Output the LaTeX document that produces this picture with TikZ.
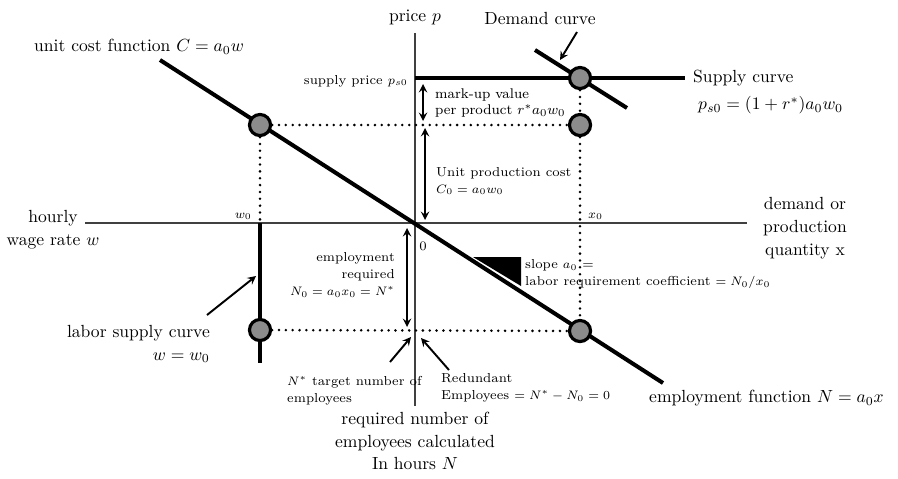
\documentclass[tikz,border=0pt]{standalone}
\begin{document}
\begin{tikzpicture}[x=0.02cm, y=-0.02cm, >=stealth,
    axis/.style={line width=0.8pt, black!75},
    curve/.style={line width=2.3pt},
    dots/.style={line width=1.6pt, line cap=round, dash pattern=on 0pt off 3.9pt},
    pnt/.style={circle, draw, line width=1.8pt, fill=black!45, minimum size=12pt, inner sep=0pt},
    arr/.style={->, line width=1.1pt},
    dbl/.style={<->, line width=1.1pt},
    big/.style={font=\fontsize{10}{13}\selectfont},
    small/.style={font=\fontsize{7.4}{9.6}\selectfont}]
    \useasboundingbox (0,0) rectangle (898,478);
    % axes
    \coordinate (O) at (415,223);
    \coordinate (xl) at (85,223);
    \coordinate (xr) at (747,223);
    \coordinate (pt) at (415,33);
    \coordinate (pb) at (415,406);
    \draw[axis] (xl) -- (xr);
    \draw[axis] (pt) -- (pb);
    % curves
    \coordinate (cst) at (160,60);
    \coordinate (cen) at (663,383);
    \coordinate (ps) at (415,78);
    \coordinate (se) at (685,78);
    \coordinate (ds) at (535,50);
    \coordinate (de) at (627,108);
    \coordinate (w0) at (260,223);
    \coordinate (lse) at (260,363);
    \draw[curve] (cst) -- (cen);
    \draw[curve] (ps) -- (se);
    \draw[curve] (ds) -- (de);
    \draw[curve] (w0) -- (lse);
    \fill (473,257) -- (521,257) -- (521,286) -- cycle;
    % points
    \node[pnt] (cL) at (260,125) {};
    \node[pnt] (cR) at (580,125) {};
    \node[pnt] (cS) at (580,78) {};
    \node[pnt] (cBL) at (260,330) {};
    \node[pnt] (cBR) at (580,331) {};
    \draw[dots] (cL) -- (cR);
    \draw[dots] (cL) -- (w0);
    \draw[dots] (cS) -- (cR);
    \draw[dots] (cR) -- (cBR);
    \draw[dots] (cBL) -- (cBR);
    % axis labels
    \node[big] (plab) at (415,17) {price $p$};
    \node[big, align=center] (wlab) at (53,230) {hourly\\wage rate $w$};
    \node[big, align=center] (xlab) at (805,228) {demand or\\production\\quantity x};
    \node[big, align=center] (nlab) at (415,441) {required number of\\employees calculated\\In hours $N$};
    \node[small, anchor=south east] (w0lab) at (258,226) {$w_0$};
    \node[small, anchor=south west] (x0lab) at (582,226) {$x_0$};
    \node[small] (olab) at (423,246) {0};
    % curve labels
    \node[big, anchor=west] (clab) at (28,47) {unit cost function $C=a_0w$};
    \node[big, anchor=west] (elab) at (643,398) {employment function $N=a_0x$};
    \node[big] (dlab) at (540,18) {Demand curve};
    \node[big, anchor=west] (slab) at (687,78) {Supply curve};
    \node[big, anchor=west] (sfor) at (692,105) {$p_{s0}=(1+r^*)a_0w_0$};
    \node[big, align=right, anchor=east] (llab) at (216,344) {labor supply curve\\$w=w_0$};
    \coordinate (da) at (577,32);
    \coordinate (db) at (560,60);
    \coordinate (la) at (207,315);
    \coordinate (lb) at (256,276);
    \draw[arr] (da) -- (db);
    \draw[arr] (la) -- (lb);
    % price side
    \node[small, anchor=east] (splab) at (414,81) {supply price $p_{s0}$};
    \node[small, font=\fontsize{8}{9.6}\selectfont, align=left, anchor=west] (mlab) at (429,103) {mark-up value\\per product $r^*a_0w_0$};
    \node[small, align=left, anchor=west] (ulab) at (430,181) {Unit production cost\\$C_0=a_0w_0$};
    \coordinate (m1) at (423,84);
    \coordinate (m2) at (423,121);
    \coordinate (u1) at (425,128);
    \coordinate (u2) at (425,220);
    \draw[dbl] (m1) -- (m2);
    \draw[dbl] (u1) -- (u2);
    % employment side
    \node[small, align=right, anchor=east] (rlab) at (401,275) {employment\\required\\$N_0=a_0x_0=N^*$};
    \node[small, align=left, anchor=west] (slope) at (519,274) {slope $a_0$ =\\labor requirement coefficient $=N_0/x_0$};
    \node[small, align=left, anchor=west] (tlab) at (281,391) {$N^*$ target number of\\employees};
    \node[small, align=left, anchor=west] (rdlab) at (435,388) {Redundant\\Employees $=N^*-N_0=0$};
    \coordinate (e1) at (407,228);
    \coordinate (e2) at (407,327);
    \draw[dbl] (e1) -- (e2);
    \coordinate (ta) at (390,362);
    \coordinate (tb) at (411,337);
    \coordinate (ra) at (449,370);
    \coordinate (rb) at (421,338);
    \draw[arr] (ta) -- (tb);
    \draw[arr] (ra) -- (rb);
\end{tikzpicture}
\end{document}
